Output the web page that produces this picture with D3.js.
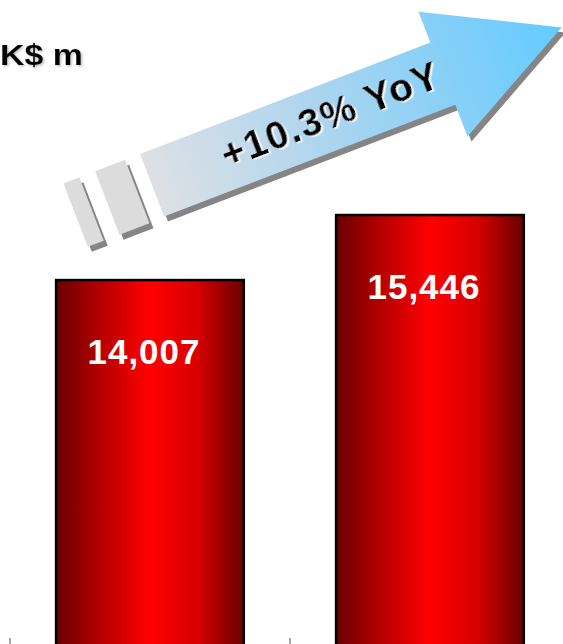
<!DOCTYPE html>
<html>
<head>
<meta charset="utf-8">
<script src="https://cdn.jsdelivr.net/npm/d3@7/dist/d3.min.js"></script>
<style>
  html, body { margin: 0; padding: 0; background: #ffffff; }
  svg { display: block; }
</style>
</head>
<body>
<div id="chart"></div>
<script>
// Revenue, two periods (HK$ m)
const periods = ["Prior year", "Current year"];
const revenue = [14007, 15446];
const growthLabel = "+10.3% YoY";
const unitLabel = "K$ m";

const width = 563, height = 644;

const svg = d3.select("#chart").append("svg")
  .attr("width", width)
  .attr("height", height)
  .attr("font-family", "Arial, 'Liberation Sans', sans-serif");

const defs = svg.append("defs");

// Horizontal shading for the bars: dark edges, bright centre
const barGrad = defs.append("linearGradient")
  .attr("id", "barGrad").attr("x1", "0%").attr("x2", "100%").attr("y1", "0%").attr("y2", "0%");
[[0, "#6a0000"], [0.22, "#b00000"], [0.5, "#ff0000"], [0.75, "#d80000"], [1, "#680000"]]
  .forEach(([o, c]) => barGrad.append("stop").attr("offset", o).attr("stop-color", c));

// Text shadows
const greyShadow = defs.append("filter").attr("id", "greyShadow")
  .attr("x", "-10%").attr("y", "-20%").attr("width", "130%").attr("height", "150%");
greyShadow.append("feDropShadow")
  .attr("dx", 1.5).attr("dy", 1.5).attr("stdDeviation", 0.8)
  .attr("flood-color", "#9a9a9a").attr("flood-opacity", 0.6);

const whiteShadow = defs.append("filter").attr("id", "whiteShadow")
  .attr("x", "-10%").attr("y", "-20%").attr("width", "130%").attr("height", "150%");
whiteShadow.append("feDropShadow")
  .attr("dx", 1.5).attr("dy", 1.5).attr("stdDeviation", 0.3)
  .attr("flood-color", "#ffffff").attr("flood-opacity", 1);

// Scales
const x = d3.scaleBand()
  .domain(periods)
  .range([10, 570])
  .paddingInner(0.33)
  .paddingOuter(0.165);

const y = d3.scaleLinear()
  .domain([0, 16000])
  .range([913, 190]);

// Bars
const bars = svg.append("g").selectAll("g.bar")
  .data(periods.map((p, i) => ({ period: p, value: revenue[i] })))
  .join("g").attr("class", "bar");

bars.append("rect")
  .attr("x", d => x(d.period) - 1.5)
  .attr("y", d => y(d.value))
  .attr("width", 1.5)
  .attr("height", d => y(0) - y(d.value))
  .attr("fill", "#9a9a9a");

bars.append("rect")
  .attr("x", d => x(d.period))
  .attr("y", d => y(d.value))
  .attr("width", x.bandwidth())
  .attr("height", d => y(0) - y(d.value))
  .attr("fill", "url(#barGrad)")
  .attr("stroke", "#000")
  .attr("stroke-width", 2.5);

bars.append("text")
  .attr("x", d => x(d.period) + x.bandwidth() / 2 - 6)
  .attr("y", d => y(d.value) + 84)
  .attr("text-anchor", "middle")
  .attr("fill", "#ffffff")
  .attr("font-weight", "bold")
  .attr("font-size", 35)
  .attr("letter-spacing", 1)
  .text(d => d3.format(",")(d.value));

// Category ticks at band boundaries
const step = x.step();
const boundaries = periods.map(p => x(p) - (step - x.bandwidth()) / 2);
svg.append("g").selectAll("line")
  .data(boundaries)
  .join("line")
  .attr("x1", d => d).attr("x2", d => d)
  .attr("y1", 638).attr("y2", 650)
  .attr("stroke", "#555").attr("stroke-width", 1);

// Unit label
svg.append("text")
  .attr("x", 0).attr("y", 65)
  .attr("fill", "#000")
  .attr("font-weight", "bold").attr("font-size", 29)
  .attr("textLength", 83).attr("lengthAdjust", "spacingAndGlyphs")
  .attr("filter", "url(#greyShadow)")
  .text(unitLabel);

// Growth arrow
const angle = -21;
const arrowGrad = defs.append("linearGradient")
  .attr("id", "arrowGrad")
  .attr("gradientUnits", "userSpaceOnUse")
  .attr("x1", 0).attr("y1", 0).attr("x2", 439).attr("y2", 0);
arrowGrad.append("stop").attr("offset", 0).attr("stop-color", "#dde0e4");
arrowGrad.append("stop").attr("offset", 0.45).attr("stop-color", "#a8d4f0");
arrowGrad.append("stop").attr("offset", 1).attr("stop-color", "#63cbff");

const arrowPts = [[0, 0], [311, 0], [311, -33], [439, 33], [312, 101], [312, 67], [0, 67]];
const tailRects = [[-82, 17], [-48, 32]];

function drawArrow(g, fill, tailFill) {
  g.append("polygon")
    .attr("points", arrowPts.map(p => p.join(",")).join(" "))
    .attr("fill", fill);
  g.selectAll("rect.tail")
    .data(tailRects)
    .join("rect").attr("class", "tail")
    .attr("x", d => d[0]).attr("y", 0)
    .attr("width", d => d[1]).attr("height", 68)
    .attr("fill", tailFill);
}

const shadow = svg.append("g").attr("transform", "translate(4,5)")
  .append("g").attr("transform", `translate(140,154) rotate(${angle})`);
drawArrow(shadow, "#858585", "#858585");

const arrow = svg.append("g").attr("transform", `translate(140,154) rotate(${angle})`);
drawArrow(arrow, "url(#arrowGrad)", "#dcdcdc");

arrow.append("text")
  .attr("x", 192).attr("y", 45)
  .attr("text-anchor", "middle")
  .attr("fill", "#000")
  .attr("font-weight", "bold").attr("font-size", 39)
  .attr("letter-spacing", 1.5)
  .attr("filter", "url(#whiteShadow)")
  .text(growthLabel);
</script>
</body>
</html>
